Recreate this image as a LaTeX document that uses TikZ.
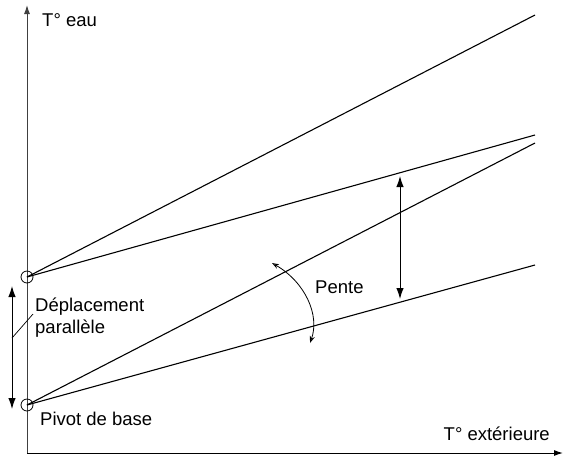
\documentclass[tikz,border=0pt]{standalone}
\usepackage{fontspec}
\setmainfont{Liberation Sans}
\usetikzlibrary{arrows.meta}
\begin{document}
\begin{tikzpicture}[x=1pt,y=-1pt,
  lbl/.style={font=\fontsize{18.5}{22}\selectfont, inner sep=0pt},
  ln/.style={line width=1.1pt},
  axis/.style={line width=1pt, draw=black!75, -{Latex[length=9pt,width=6pt]}},
  dbl/.style={line width=1pt, {Latex[length=11pt,width=7.5pt]}-{Latex[length=11pt,width=7.5pt]}},
  pivot/.style={circle, draw, line width=0.8pt, minimum size=12pt, inner sep=0pt}]
\useasboundingbox (0,0) rectangle (565,459);
% axes
\coordinate (o) at (27,453);
\coordinate (ytop) at (27,5);
\coordinate (xend) at (563,453);
\draw[axis] (o) -- (ytop);
\draw[axis, draw=black] (o) -- (xend);
% pivots
\node[pivot] (p1) at (27,277) {};
\node[pivot] (p2) at (27,405) {};
% line ends
\coordinate (e1) at (535,15);
\coordinate (e2) at (535,135);
\coordinate (e3) at (535,143);
\coordinate (e4) at (535,265);
\draw[ln] (p1.center) -- (e1);
\draw[ln] (p1.center) -- (e2);
\draw[ln] (p2.center) -- (e3);
\draw[ln] (p2.center) -- (e4);
% vertical double arrow
\coordinate (va) at (400,176);
\coordinate (vb) at (400,299);
\draw[dbl] (va) -- (vb);
% left double arrow
\coordinate (la) at (12,286);
\coordinate (lb) at (12,409);
\draw[dbl] (la) -- (lb);
\coordinate (lm) at (12,338);
\coordinate (lt) at (33,314);
\draw[line width=0.7pt] (lm) -- (lt);
% Pente arc
\coordinate (pa) at (272,263);
\coordinate (pb) at (310,343);
\draw[line width=0.8pt, {Stealth[length=7pt,width=5pt,open]}-{Stealth[length=7pt,width=5pt,open]}]
  (pa) .. controls (305,282) and (320,315) .. (pb);
% labels
\node[lbl, anchor=west] (teau) at (42,20) {T° eau};
\node[lbl, anchor=east] (text) at (550,434) {T° extérieure};
\node[lbl, anchor=west] (pente) at (315,287) {Pente};
\node[lbl, anchor=west, align=left] (dep) at (35,318) {Déplacement\\parallèle};
\node[lbl, anchor=west] (piv) at (40,419) {Pivot de base};
\end{tikzpicture}
\end{document}
